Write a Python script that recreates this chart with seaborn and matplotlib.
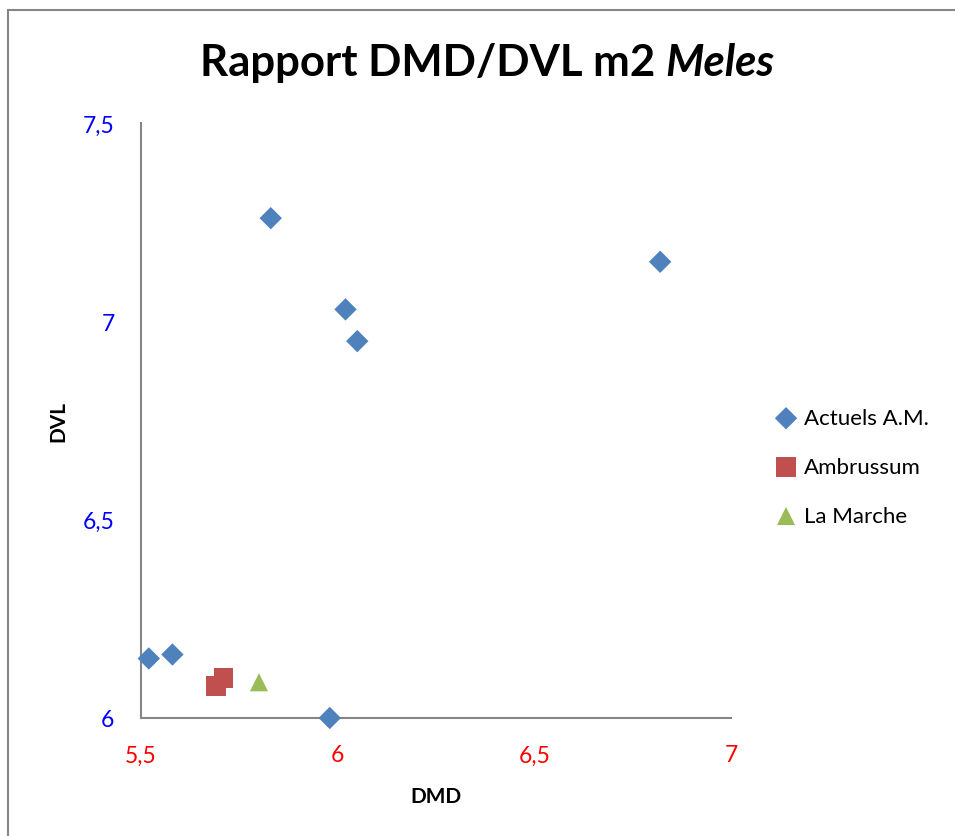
import pandas as pd
import numpy as np
import matplotlib
matplotlib.use('Agg')
import matplotlib.pyplot as plt
import matplotlib.patches as mpatches
from matplotlib.ticker import FixedLocator, FuncFormatter
import seaborn as sns

# values
actuels_dmd = [5.83, 6.82, 6.02, 6.05, 5.52, 5.58, 5.98]
actuels_dvl = [7.26, 7.15, 7.03, 6.95, 6.15, 6.16, 6.00]
ambrussum_dmd = [5.69, 5.71]
ambrussum_dvl = [6.08, 6.10]
marche_dmd = [5.80]
marche_dvl = [6.09]

series = ['Actuels A.M.', 'Ambrussum', 'La Marche']
x_ticks = [5.5, 6, 6.5, 7]
y_ticks = [6, 6.5, 7, 7.5]

df = pd.concat([
    pd.DataFrame({'DMD': actuels_dmd, 'DVL': actuels_dvl, 'serie': series[0]}),
    pd.DataFrame({'DMD': ambrussum_dmd, 'DVL': ambrussum_dvl, 'serie': series[1]}),
    pd.DataFrame({'DMD': marche_dmd, 'DVL': marche_dvl, 'serie': series[2]}),
], ignore_index=True)

sns.set_style('white')
plt.rcParams['font.family'] = ['Lato', 'DejaVu Sans']
plt.rcParams['text.color'] = 'black'
plt.rcParams['axes.labelcolor'] = 'black'

colors = {'Actuels A.M.': '#4F81BD', 'Ambrussum': '#C0504D', 'La Marche': '#9BBB59'}
markers = {'Actuels A.M.': 'D', 'Ambrussum': 's', 'La Marche': '^'}
sizes = {'Actuels A.M.': 130, 'Ambrussum': 200, 'La Marche': 170}

fig = plt.figure(figsize=(9.55, 8.37), dpi=100)
ax = fig.add_axes([0.1476, 0.1410, 0.6178, 0.7109])

for s in series:
    sns.scatterplot(data=df[df['serie'] == s], x='DMD', y='DVL', ax=ax,
                    color=colors[s], marker=markers[s], s=sizes[s],
                    edgecolor='none', label=s, clip_on=False, zorder=3)

ax.set_xlim(5.5, 7)
ax.set_ylim(6, 7.5)
ax.xaxis.set_major_locator(FixedLocator(x_ticks))
ax.yaxis.set_major_locator(FixedLocator(y_ticks))
fmt = FuncFormatter(lambda v, p: f'{v:g}'.replace('.', ','))
ax.xaxis.set_major_formatter(fmt)
ax.yaxis.set_major_formatter(fmt)

for side in ['top', 'right']:
    ax.spines[side].set_visible(False)
for side in ['left', 'bottom']:
    ax.spines[side].set_color('#868686')
    ax.spines[side].set_linewidth(1.5)

ax.tick_params(axis='both', direction='out', length=7, width=1.5, color='#868686', labelsize=16.5)
ax.tick_params(axis='x', labelcolor='red', pad=12)
ax.tick_params(axis='y', labelcolor='blue', pad=12)

ax.set_xlabel('DMD', fontsize=15, fontweight='bold', labelpad=15)
ax.set_ylabel('DVL', fontsize=15, fontweight='bold', labelpad=10)

ax.legend(loc='center left', bbox_to_anchor=(0.8126, 0.4409), bbox_transform=fig.transFigure,
          frameon=False, fontsize=16, handlelength=0.9, handletextpad=0.35,
          labelspacing=1.3, borderpad=0, borderaxespad=0)

# title: bold part + bold italic "Meles", centred together
t1 = fig.text(0, 0.9247, 'Rapport DMD/DVL m2 ', fontsize=31.5, fontweight='bold', va='center')
t2 = fig.text(0, 0.9247, 'Meles', fontsize=31.5, fontweight='bold', style='italic', va='center')
fig.canvas.draw()
r = fig.canvas.get_renderer()
w1 = t1.get_window_extent(r).width
w2 = t2.get_window_extent(r).width
x0 = 487 - (w1 + w2) / 2
t1.set_x(x0 / 955)
t2.set_x((x0 + w1) / 955)

# chart area border
fig.patches.append(mpatches.Rectangle((8 / 955, -0.05), 1.1, 1 - 11 / 837 + 0.05,
                                      transform=fig.transFigure, fill=False,
                                      edgecolor='#868686', linewidth=1.5))

fig.savefig('out.png', dpi=100)
